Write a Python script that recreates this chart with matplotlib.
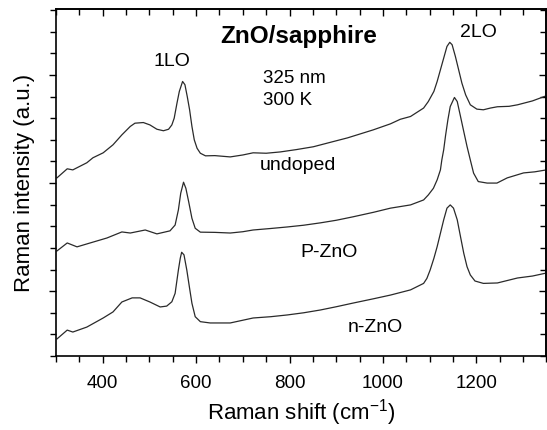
import numpy as np
import matplotlib
matplotlib.use("Agg")
import matplotlib.pyplot as plt
from matplotlib.ticker import MultipleLocator

plt.rcParams['font.family'] = ['Liberation Sans', 'DejaVu Sans']
plt.rcParams['mathtext.fontset'] = 'custom'
plt.rcParams['mathtext.rm'] = 'Liberation Sans'

# Raman spectra, offset vertically (arbitrary units)
shift_undoped = [302, 324, 336, 366, 379, 401, 422, 441, 459, 469, 487, 501, 516, 530, 541,
                 548, 553, 559, 564, 571, 576, 581, 586, 591, 596, 602, 609, 620, 640, 673,
                 700, 722, 750, 780, 815, 851, 890, 924, 979, 1016, 1037, 1059, 1087, 1097,
                 1109, 1116, 1123, 1130, 1137, 1143, 1148, 1155, 1162, 1169, 1177, 1187, 1201,
                 1215, 1230, 1245, 1270, 1288, 1320, 1350]
int_undoped = [8.24, 8.66, 8.61, 8.94, 9.17, 9.40, 9.77, 10.23, 10.62, 10.77, 10.80, 10.69,
               10.49, 10.42, 10.49, 10.69, 11.00, 11.70, 12.24, 12.70, 12.55, 12.00, 11.39,
               10.62, 10.00, 9.61, 9.38, 9.26, 9.27, 9.21, 9.30, 9.40, 9.38, 9.44, 9.55, 9.68,
               9.90, 10.09, 10.46, 10.74, 10.95, 11.08, 11.47, 11.77, 12.24, 12.70, 13.24,
               13.78, 14.32, 14.51, 14.40, 13.86, 13.24, 12.62, 12.08, 11.62, 11.42, 11.39,
               11.47, 11.53, 11.55, 11.62, 11.80, 12.04]

shift_p = [302, 324, 345, 373, 409, 441, 459, 491, 516, 544, 555, 562, 567, 573, 578, 584, 591,
           598, 609, 640, 673, 700, 722, 760, 795, 830, 866, 900, 936, 980, 1016, 1059, 1087,
           1097, 1108, 1116, 1123, 1126, 1130, 1134, 1139, 1144, 1153, 1159, 1166, 1173, 1180,
           1187, 1194, 1204, 1223, 1244, 1266, 1301, 1325, 1350]
int_p = [4.86, 5.23, 5.05, 5.23, 5.46, 5.74, 5.69, 5.83, 5.65, 5.79, 6.06, 6.76, 7.53, 8.04,
         7.76, 7.14, 6.37, 5.91, 5.73, 5.72, 5.69, 5.75, 5.83, 5.90, 5.97, 6.05, 6.16, 6.28,
         6.44, 6.65, 6.84, 6.99, 7.22, 7.45, 7.76, 8.15, 8.61, 9.07, 9.54, 10.20, 10.93, 11.54,
         11.96, 11.77, 11.08, 10.38, 9.69, 9.07, 8.46, 8.07, 8.00, 8.00, 8.24, 8.47, 8.52, 8.61]

shift_n = [302, 324, 336, 366, 401, 422, 441, 463, 480, 501, 523, 537, 548, 555, 562, 566, 569,
           574, 580, 586, 591, 598, 609, 630, 673, 722, 760, 795, 830, 866, 900, 936, 980, 1016,
           1059, 1087, 1094, 1101, 1109, 1116, 1123, 1130, 1137, 1144, 1151, 1159, 1166, 1173,
           1180, 1187, 1197, 1215, 1245, 1288, 1320, 1350]
int_n = [0.79, 1.20, 1.11, 1.34, 1.76, 2.04, 2.50, 2.69, 2.69, 2.50, 2.27, 2.31, 2.51, 2.90,
         3.98, 4.52, 4.80, 4.68, 3.98, 3.13, 2.44, 1.82, 1.59, 1.53, 1.53, 1.76, 1.82, 1.90,
         2.00, 2.13, 2.28, 2.45, 2.65, 2.82, 3.06, 3.36, 3.59, 3.98, 4.52, 5.06, 5.68, 6.30,
         6.84, 6.99, 6.84, 6.30, 5.52, 4.75, 4.13, 3.75, 3.47, 3.36, 3.38, 3.61, 3.70, 3.84]

fig = plt.figure(figsize=(5.47, 4.30), dpi=100)
ax = fig.add_axes([0.1024, 0.172, 0.8966, 0.807])

line_kw = dict(color='#2a2a2a', lw=0.9)
ax.plot(shift_undoped, int_undoped, **line_kw)
ax.plot(shift_p, int_p, **line_kw)
ax.plot(shift_n, int_n, **line_kw)

ax.set_xlim(300, 1350)
ax.set_ylim(0, 16.05)

ax.xaxis.set_major_locator(MultipleLocator(200))
ax.xaxis.set_minor_locator(MultipleLocator(50))
ax.yaxis.set_minor_locator(MultipleLocator(1))
ax.set_yticks([3, 8, 13])
ax.set_yticklabels([])

ax.tick_params(which='both', direction='out', width=1.0, colors='black', labelsize=13.5, pad=9)
ax.tick_params(which='major', length=5)
ax.tick_params(which='minor', length=4)

for side in ['left', 'right', 'top', 'bottom']:
    ax.spines[side].set_linewidth(1.2)

# mirrored ticks on top and right pointing inward
top = ax.secondary_xaxis('top')
top.xaxis.set_major_locator(MultipleLocator(200))
top.xaxis.set_minor_locator(MultipleLocator(50))
top.tick_params(which='both', direction='in', width=1.0, labeltop=False)
top.tick_params(which='major', length=5)
top.tick_params(which='minor', length=4)
right = ax.secondary_yaxis('right')
right.set_yticks([3, 8, 13])
right.yaxis.set_minor_locator(MultipleLocator(1))
right.tick_params(which='both', direction='in', width=1.0, labelright=False)
right.tick_params(which='major', length=5)
right.tick_params(which='minor', length=4)
top.spines['top'].set_linewidth(1.2)
right.spines['right'].set_linewidth(1.2)

ax.set_xlabel(r'Raman shift (cm$^{\mathregular{-1}}$)', fontsize=16, labelpad=3)
ax.set_ylabel('Raman intensity (a.u.)', fontsize=16)
ax.yaxis.set_label_coords(-0.042, 0.5)

ax.text(820, 14.77, 'ZnO/sapphire', fontsize=17.5, fontweight='bold', ha='center', va='center')
ax.text(549, 13.61, '1LO', fontsize=14, ha='center', va='center')
ax.text(1204, 14.95, '2LO', fontsize=14, ha='center', va='center')
ax.text(744, 12.82, '325 nm', fontsize=13.5, ha='left', va='center')
ax.text(744, 11.81, '300 K', fontsize=13.5, ha='left', va='center')
ax.text(819, 8.80, 'undoped', fontsize=14, ha='center', va='center')
ax.text(885, 4.81, 'P-ZnO', fontsize=14, ha='center', va='center')
ax.text(984, 1.34, 'n-ZnO', fontsize=14, ha='center', va='center')

fig.savefig('out.png', dpi=100)
